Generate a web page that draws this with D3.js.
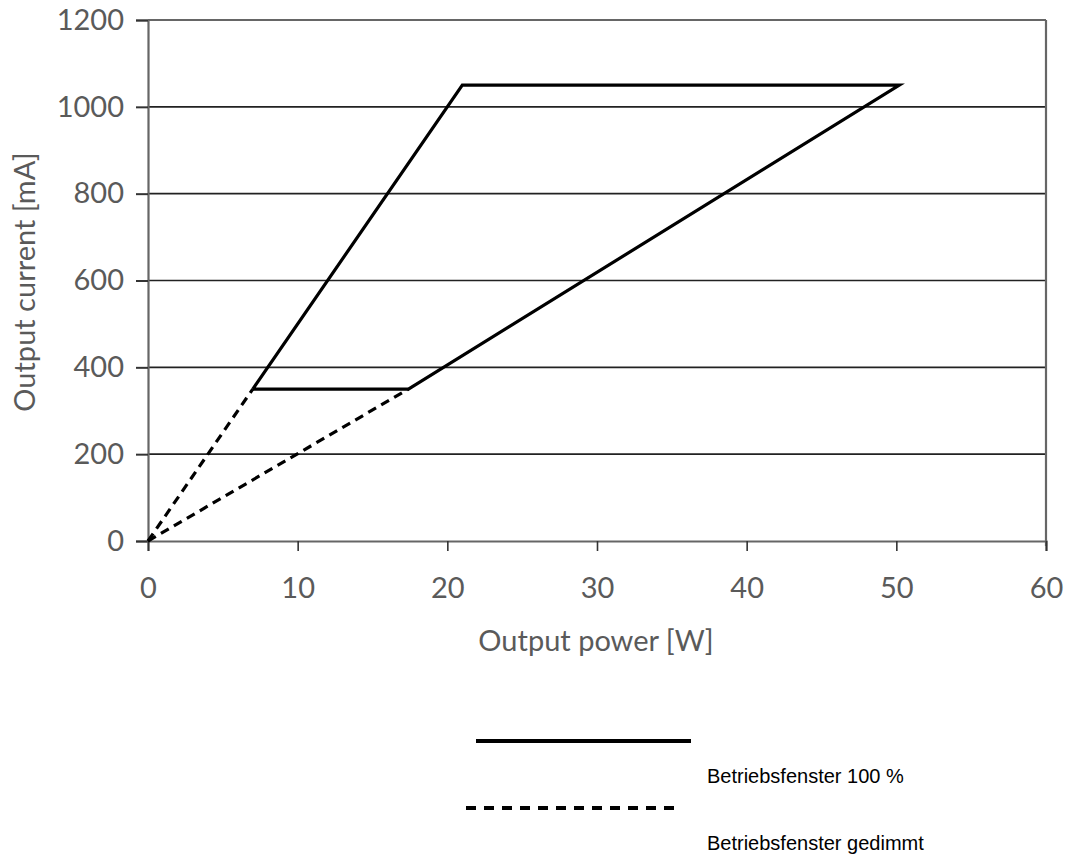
<!DOCTYPE html>
<html><head><meta charset="utf-8">
<script src="https://cdn.jsdelivr.net/npm/d3@7"></script>
<style>body{margin:0;background:#fff}</style>
</head><body>
<svg id="c" width="1065" height="858"></svg>
<script>
const xTicks = [0,10,20,30,40,50,60];
const yTicks = [0,200,400,600,800,1000,1200];
// Betriebsfenster 100 % (solid polygon)
const windowPower = [7, 21, 50.2, 17.4, 7];
const windowCurrent = [350, 1050, 1050, 350, 350];
// Betriebsfenster gedimmt (dashed)
const dimLowPower = [0, 7];
const dimLowCurrent = [0, 350];
const dimHighPower = [0, 17.4];
const dimHighCurrent = [0, 350];
const legendLabels = ["Betriebsfenster 100 %", "Betriebsfenster gedimmt"];

const svg = d3.select("#c");
const x = d3.scaleLinear().domain([0,60]).range([148,1046]);
const y = d3.scaleLinear().domain([0,1200]).range([541,20]);
const tickFont = "Lato, 'Noto Sans', sans-serif";

// gridlines
svg.append("g").selectAll("line").data(yTicks.filter(d=>d>0 && d<1200)).join("line")
  .attr("x1", x(0)).attr("x2", x(60)).attr("y1", d=>y(d)).attr("y2", d=>y(d))
  .attr("stroke", "#222").attr("stroke-width", 1.6);

// frame
svg.append("line").attr("x1", x(0)).attr("x2", x(60)).attr("y1", y(1200)).attr("y2", y(1200)).attr("stroke","#666").attr("stroke-width",2.2);
svg.append("line").attr("x1", x(60)).attr("x2", x(60)).attr("y1", y(1200)).attr("y2", y(0)+5).attr("stroke","#666").attr("stroke-width",2.2);

// axes
const yAxis = svg.append("g").attr("transform", `translate(${x(0)},0)`)
  .call(d3.axisLeft(y).tickValues(yTicks).tickFormat(d3.format("d")).tickSize(12).tickPadding(12));
const xAxis = svg.append("g").attr("transform", `translate(0,${y(0)})`)
  .call(d3.axisBottom(x).tickValues(xTicks).tickFormat(d3.format("d")).tickSize(10).tickPadding(26));
[yAxis, xAxis].forEach(a=>{
  a.select(".domain").attr("stroke","#666").attr("stroke-width",2.2);
  a.selectAll(".tick line").attr("stroke","#333").attr("stroke-width",1.6);
  a.selectAll(".tick text").attr("fill","#5a5a5a").style("font-family",tickFont).style("font-size","29px").style("font-weight","400");
});
yAxis.selectAll(".tick line").attr("stroke-width",2);

// axis labels
svg.append("text").attr("x", 596).attr("y", 651).attr("text-anchor","middle")
  .attr("fill","#5a5a5a").style("font-family",tickFont).style("font-size","29px").style("font-weight","400")
  .text("Output power [W]");
svg.append("text").attr("transform","translate(35,282) rotate(-90)").attr("text-anchor","middle")
  .attr("fill","#5a5a5a").style("font-family",tickFont).style("font-size","29px").style("font-weight","400")
  .text("Output current [mA]");

const line = d3.line().x(d=>x(d[0])).y(d=>y(d[1]));
const dash = "9,6";
svg.append("path").datum(dimLowPower.map((p,i)=>[p,dimLowCurrent[i]])).attr("d", line)
  .attr("fill","none").attr("stroke","#000").attr("stroke-width",3.2).attr("stroke-dasharray",dash);
svg.append("path").datum(dimHighPower.map((p,i)=>[p,dimHighCurrent[i]])).attr("d", line)
  .attr("fill","none").attr("stroke","#000").attr("stroke-width",3.2).attr("stroke-dasharray",dash);
svg.append("path").datum(windowPower.map((p,i)=>[p,windowCurrent[i]])).attr("d", line)
  .attr("fill","none").attr("stroke","#000").attr("stroke-width",3.2).attr("stroke-linejoin","miter");

// legend
svg.append("line").attr("x1",476).attr("x2",691).attr("y1",741).attr("y2",741).attr("stroke","#000").attr("stroke-width",4);
svg.append("line").attr("x1",466).attr("x2",678).attr("y1",808).attr("y2",808).attr("stroke","#000").attr("stroke-width",4).attr("stroke-dasharray","10,8");
const legFont = "'Liberation Sans', Arial, sans-serif";
svg.append("text").attr("x",707).attr("y",783).style("font-family",legFont).style("font-size","20px").attr("fill","#000").text(legendLabels[0]);
svg.append("text").attr("x",707).attr("y",850).style("font-family",legFont).style("font-size","20px").attr("fill","#000").text(legendLabels[1]);
</script>
</body></html>
